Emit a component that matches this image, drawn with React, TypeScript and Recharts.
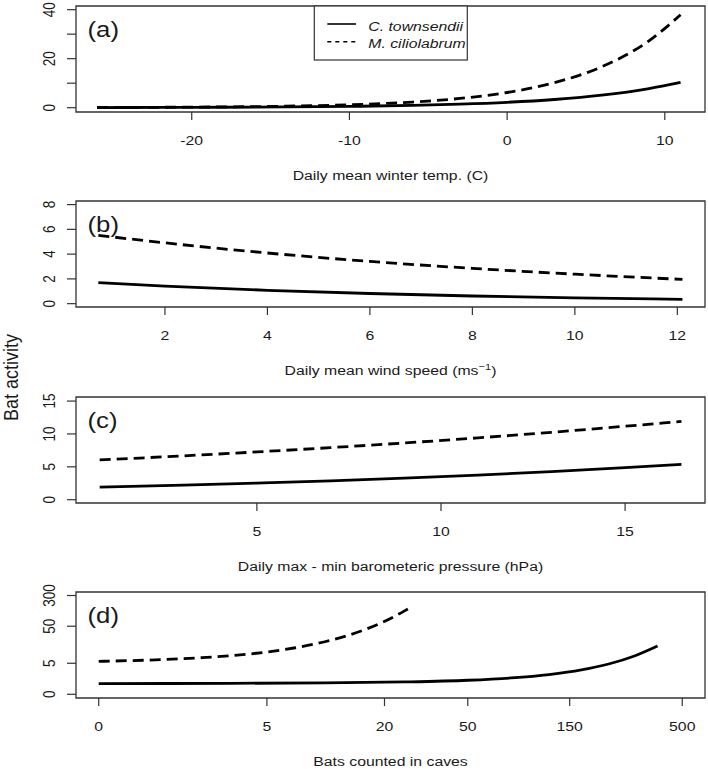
import React from "react";
import { LineChart, Line, XAxis, YAxis, ReferenceArea } from "recharts";

// (a) daily mean winter temperature
const tempX = [-26, -22, -18, -14, -10, -6, -3, 0, 3, 6, 9, 11];
const tempTownsendii = [0.06, 0.1, 0.18, 0.31, 0.54, 0.95, 1.45, 2.2, 3.35, 5.1, 7.8, 10.3];
const tempCiliolabrum = [0.09, 0.17, 0.32, 0.62, 1.2, 2.31, 3.78, 6.2, 10.2, 16.7, 27.3, 37.9];
const tempTicks = [-20, -10, 0, 10];
const tempYTicks = [0, 10, 20, 30, 40];
const tempYLabels = [0, 20, 40];

// (b) daily mean wind speed
const windX = [0.7, 2, 4, 6, 8, 10, 12.1];
const windTownsendii = [1.7, 1.42, 1.08, 0.82, 0.62, 0.47, 0.35];
const windCiliolabrum = [5.52, 4.91, 4.09, 3.41, 2.85, 2.38, 1.96];
const windTicks = [2, 4, 6, 8, 10, 12];
const windYTicks = [0, 2, 4, 6, 8];

// (c) daily barometric pressure range
const pressX = [0.73, 3, 5, 7, 9, 11, 13, 15, 16.53];
const pressTownsendii = [1.9, 2.21, 2.52, 2.87, 3.28, 3.74, 4.27, 4.87, 5.38];
const pressCiliolabrum = [6.05, 6.67, 7.27, 7.92, 8.63, 9.4, 10.25, 11.17, 11.9];
const pressTicks = [5, 10, 15];
const pressYTicks = [0, 5, 10, 15];

// (d) bats counted in caves (both axes on log(x + 1))
const caveCountTownsendii = [0, 3, 10, 25, 50, 80, 120, 170, 230, 300, 384];
const caveTownsendii = [0.86, 0.88, 0.93, 1.04, 1.25, 1.57, 2.12, 3.08, 4.83, 8.16, 15.3];
const caveCountCiliolabrum = [0, 1, 2, 3, 5, 7, 10, 13, 16, 19, 22, 25, 27.2];
const caveCiliolabrum = [5.7, 6.45, 7.29, 8.24, 10.5, 13.5, 19.5, 28.2, 40.8, 59.0, 85.3, 123, 159];
const caveTicks = [0, 5, 20, 50, 150, 500];
const caveYTicks = [0, 5, 50, 300];

const FONT = '"Liberation Sans", Arial, Helvetica, sans-serif';
const INK = "#1a1a1a";
const AXIS = "#333";
const SX = 1.17; // the figure is slightly stretched horizontally

const zip = (xs: number[], ys: number[]) => xs.map((x, i) => ({ x, y: ys[i] }));
const zipLog = (xs: number[], ys: number[]) =>
  xs.map((x, i) => ({ x: Math.log1p(x), y: Math.log1p(ys[i]) }));

function SText({ x, y, size, anchor = "middle", rotate = false, italic = false, children }: any) {
  const t = `translate(${x},${y}) scale(${SX},1)${rotate ? " rotate(-90)" : ""}`;
  return (
    <text
      transform={t}
      textAnchor={anchor}
      fontSize={size}
      fontFamily={FONT}
      fontStyle={italic ? "italic" : "normal"}
      fill={INK}
    >
      {children}
    </text>
  );
}

// top of each plot box
const PANEL_TOPS = [6, 201, 397, 592];
const PAD = 16; // room above the box for the top y label

interface Series {
  data: { x: number; y: number }[];
  dashed?: boolean;
}

interface PanelProps {
  top: number;
  series: Series[];
  xDomain: [number, number];
  yDomain: [number, number];
  xTicks: number[];
  yTicks: number[];
  fmtX?: (v: number) => string;
  fmtY?: (v: number) => string;
}

function Panel({ top, series, xDomain, yDomain, xTicks, yTicks, fmtX = String, fmtY = String }: PanelProps) {
  return (
    <div style={{ position: "absolute", left: 0, top: top - PAD }}>
      <LineChart width={708} height={PAD + 106 + 78} margin={{ top: PAD, right: 3, bottom: 48, left: 0 }}>
        <XAxis
          type="number"
          dataKey="x"
          domain={xDomain}
          ticks={xTicks}
          interval={0}
          allowDataOverflow
          axisLine={false}
          tickLine={{ stroke: AXIS, strokeWidth: 1.2 }}
          tickSize={8}
          tickMargin={0}
          height={30}
          tick={(p: any) => (
            <SText x={p.x} y={p.y + 24.5} size={13.5}>
              {fmtX(p.payload.value)}
            </SText>
          )}
        />
        <YAxis
          type="number"
          domain={yDomain}
          ticks={yTicks}
          interval={0}
          allowDataOverflow
          width={76}
          axisLine={false}
          tickLine={{ stroke: AXIS, strokeWidth: 1.2 }}
          tickSize={9}
          tickMargin={0}
          tick={(p: any) => (
            <SText x={p.x - 12} y={p.y} size={13.5} rotate>
              {fmtY(p.payload.value)}
            </SText>
          )}
        />
        <ReferenceArea
          x1={xDomain[0]}
          x2={xDomain[1]}
          y1={yDomain[0]}
          y2={yDomain[1]}
          fill="none"
          fillOpacity={0}
          stroke={AXIS}
          strokeWidth={1.3}
        />
        {series.map((s, i) => (
          <Line
            key={i}
            data={s.data}
            dataKey="y"
            type="monotone"
            stroke="#000"
            strokeWidth={2.8}
            strokeDasharray={s.dashed ? "11 6" : undefined}
            dot={false}
            activeDot={false}
            isAnimationActive={false}
          />
        ))}
      </LineChart>
    </div>
  );
}

const countLabel = (v: number) => String(Math.round(Math.expm1(v)));

export default function App() {
  const titles = [
    "Daily mean winter temp. (C)",
    null,
    "Daily max - min barometeric pressure (hPa)",
    "Bats counted in caves",
  ];
  const tags = ["(a)", "(b)", "(c)", "(d)"];

  return (
    <div
      style={{
        position: "absolute",
        left: 0,
        top: 0,
        width: 708,
        height: 769,
        overflow: "hidden",
        background: "#fff",
      }}
    >
      <Panel
        top={PANEL_TOPS[0]}
        series={[{ data: zip(tempX, tempTownsendii) }, { data: zip(tempX, tempCiliolabrum), dashed: true }]}
        xDomain={[-27.34, 12.55]}
        yDomain={[-1.76, 41.5]}
        xTicks={tempTicks}
        yTicks={tempYTicks}
        fmtY={(v) => (tempYLabels.includes(v) ? String(v) : "")}
      />
      <Panel
        top={PANEL_TOPS[1]}
        series={[{ data: zip(windX, windTownsendii) }, { data: zip(windX, windCiliolabrum), dashed: true }]}
        xDomain={[0.264, 12.54]}
        yDomain={[-0.27, 8.29]}
        xTicks={windTicks}
        yTicks={windYTicks}
      />
      <Panel
        top={PANEL_TOPS[2]}
        series={[{ data: zip(pressX, pressTownsendii) }, { data: zip(pressX, pressCiliolabrum), dashed: true }]}
        xDomain={[0.087, 17.17]}
        yDomain={[-0.5, 15.62]}
        xTicks={pressTicks}
        yTicks={pressYTicks}
      />
      <Panel
        top={PANEL_TOPS[3]}
        series={[
          { data: zipLog(caveCountTownsendii, caveTownsendii) },
          { data: zipLog(caveCountCiliolabrum, caveCiliolabrum), dashed: true },
        ]}
        xDomain={[-0.242, 6.459]}
        yDomain={[-0.215, 5.91]}
        xTicks={caveTicks.map(Math.log1p)}
        yTicks={caveYTicks.map(Math.log1p)}
        fmtX={countLabel}
        fmtY={countLabel}
      />

      <svg
        width={708}
        height={769}
        style={{ position: "absolute", left: 0, top: 0, pointerEvents: "none" }}
      >
        <SText x={18.3} y={377.4} size={18} rotate>
          Bat activity
        </SText>
        {PANEL_TOPS.map((t, i) => (
          <React.Fragment key={i}>
            <SText x={87.5} y={t + 31} size={22} anchor="start">
              {tags[i]}
            </SText>
            <SText x={390.5} y={t + 173.5} size={13.5}>
              {titles[i] ?? (
                <>
                  Daily mean wind speed (ms
                  <tspan fontSize={9.5} dy={-5}>
                    −1
                  </tspan>
                  <tspan dy={5}>)</tspan>
                </>
              )}
            </SText>
          </React.Fragment>
        ))}

        {/* legend */}
        <rect x={314.3} y={6} width={153} height={54} fill="#fff" stroke={AXIS} strokeWidth={1.2} />
        <line x1={327.3} x2={356} y1={24} y2={24} stroke="#000" strokeWidth={1.6} />
        <line x1={327.3} x2={356} y1={41.7} y2={41.7} stroke="#000" strokeWidth={1.6} strokeDasharray="4 4" />
        <SText x={368.3} y={30.5} size={13.5} anchor="start" italic>
          C. townsendii
        </SText>
        <SText x={368.3} y={48} size={13.5} anchor="start" italic>
          M. ciliolabrum
        </SText>
      </svg>
    </div>
  );
}
